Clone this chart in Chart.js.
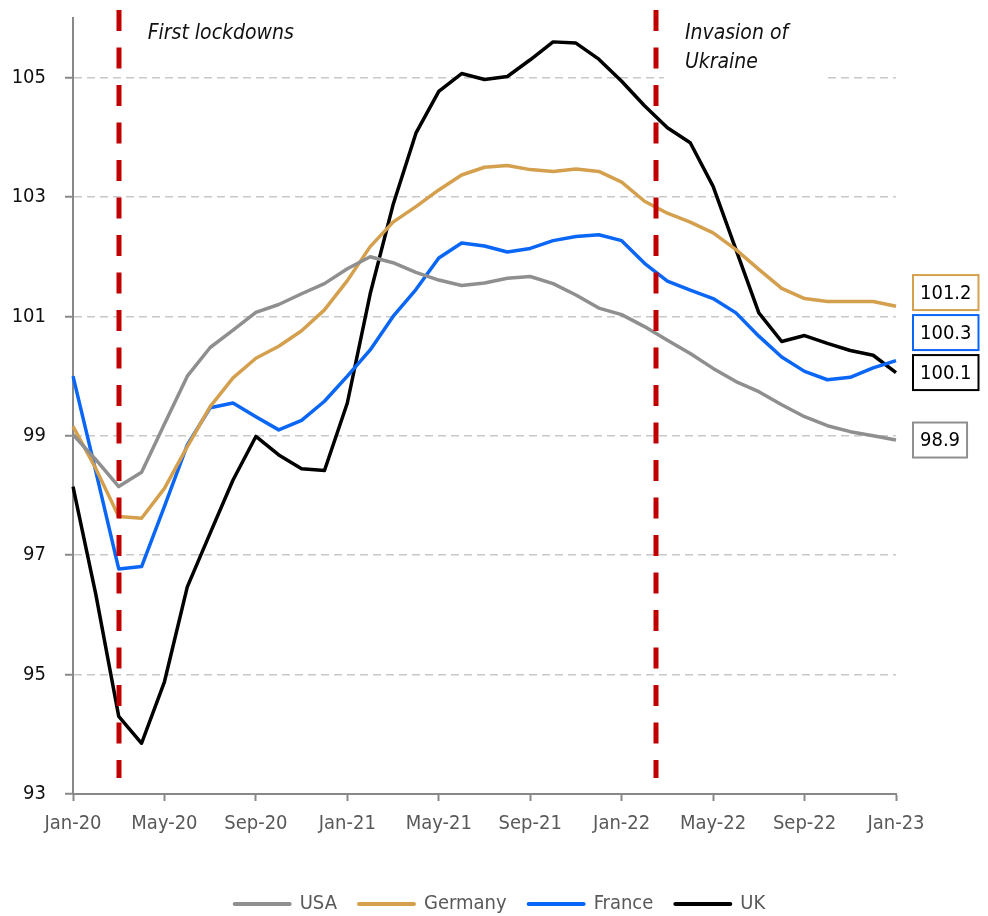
<!DOCTYPE html>
<html>
<head>
<meta charset="utf-8">
<script src="https://cdn.jsdelivr.net/npm/chart.js@4.4.1/dist/chart.umd.min.js"></script>
<style>
  html, body { margin: 0; padding: 0; background: #fff; }
  #wrap { width: 988px; height: 916px; position: relative; }
</style>
</head>
<body>
<div id="wrap"><canvas id="chart"></canvas></div>
<script>
// Données
const months = [
  "Jan-20", "Feb-20", "Mar-20", "Apr-20", "May-20", "Jun-20", "Jul-20", "Aug-20", "Sep-20", "Oct-20", "Nov-20", "Dec-20",
  "Jan-21", "Feb-21", "Mar-21", "Apr-21", "May-21", "Jun-21", "Jul-21", "Aug-21", "Sep-21", "Oct-21", "Nov-21", "Dec-21",
  "Jan-22", "Feb-22", "Mar-22", "Apr-22", "May-22", "Jun-22", "Jul-22", "Aug-22", "Sep-22", "Oct-22", "Nov-22", "Dec-22",
  "Jan-23"
];
const usa = [
  99.02, 98.6, 98.15, 98.39, 99.2, 100.0, 100.48, 100.77, 101.07, 101.2, 101.38, 101.55,
  101.8, 102.0, 101.9, 101.74, 101.61, 101.52, 101.56, 101.64, 101.67, 101.55, 101.36, 101.14,
  101.03, 100.83, 100.6, 100.38, 100.13, 99.91, 99.74, 99.52, 99.32, 99.17, 99.07, 99.0,
  98.93
];
const germany = [
  99.16, 98.45, 97.65, 97.62, 98.12, 98.82, 99.49, 99.97, 100.3, 100.5, 100.76, 101.11,
  101.6, 102.17, 102.58, 102.84, 103.12, 103.37, 103.5, 103.53, 103.46, 103.43, 103.47, 103.43,
  103.25, 102.93, 102.73, 102.58, 102.4, 102.12, 101.79, 101.47, 101.3, 101.25, 101.25, 101.25,
  101.17
];
const france = [
  100.0, 98.4, 96.77, 96.81, 97.82, 98.85, 99.47, 99.55, 99.32, 99.1, 99.26, 99.58,
  100.0, 100.44, 101.0, 101.45, 101.98, 102.23, 102.18, 102.08, 102.14, 102.27, 102.34, 102.37,
  102.27, 101.89, 101.59, 101.44, 101.3, 101.06, 100.67, 100.32, 100.08, 99.94, 99.98, 100.14,
  100.26
];
const uk = [
  98.15, 96.34, 94.3, 93.85, 94.88, 96.47, 97.37, 98.26, 98.99, 98.68, 98.45, 98.42,
  99.55, 101.38, 102.87, 104.07, 104.77, 105.07, 104.97, 105.02, 105.3, 105.6, 105.58, 105.31,
  104.94, 104.53, 104.16, 103.91, 103.18, 102.12, 101.06, 100.58, 100.68, 100.55, 100.43, 100.35,
  100.06
];
const yTicks = [93, 95, 97, 99, 101, 103, 105];
const eventPositions = [2, 25.5]; // Mar-20, fin Feb-22
const eventLabels = [["First lockdowns"], ["Invasion of", "Ukraine"]];

// Configuration
const FONT = '"Liberation Sans Narrow", "DejaVu Sans Condensed", "Open Sans", sans-serif';
const COLORS = { usa: "#8f8f8f", germany: "#d4a04e", france: "#0a66f5", uk: "#000000" };

Chart.defaults.font.family = FONT;
Chart.defaults.font.size = 20;

function makeDataset(label, values, color) {
  return {
    label: label,
    data: values,
    borderColor: color,
    backgroundColor: color,
    borderWidth: 3.5,
    borderJoinStyle: "round",
    pointRadius: 0,
    pointHoverRadius: 0,
    tension: 0,
  };
}

// Lignes verticales rouges + textes + étiquettes de fin
const annotations = {
  id: "annotations",
  beforeDatasetsDraw(chart) {
    const { ctx, scales } = chart;
    const x = scales.x;
    ctx.save();
    eventPositions.forEach((pos, i) => {
      const px = x.getPixelForValue(pos);
      const lines = eventLabels[i];
      const base = chart.chartArea.top + 21;
      // fond blanc (masque la grille sous le texte)
      ctx.fillStyle = "#fff";
      ctx.fillRect(px + 8, 12, 163, base + (lines.length - 1) * 29);
      ctx.fillStyle = "#111";
      ctx.font = "italic 21px " + FONT;
      ctx.textAlign = "left";
      ctx.textBaseline = "alphabetic";
      lines.forEach((t, j) => ctx.fillText(t, px + 29, base + j * 29));
    });
    ctx.restore();
  },
  afterDatasetsDraw(chart) {
    const { ctx, scales, chartArea } = chart;
    const x = scales.x;
    const y = scales.y;
    ctx.save();
    // lignes rouges en tirets
    ctx.strokeStyle = "#c00000";
    ctx.lineWidth = 5;
    ctx.setLineDash([21, 16.5]);
    eventPositions.forEach((pos) => {
      const px = Math.round(x.getPixelForValue(pos));
      ctx.beginPath();
      ctx.moveTo(px, chartArea.top - 8);
      ctx.lineTo(px, chartArea.bottom - 16);
      ctx.stroke();
    });
    ctx.setLineDash([]);

    // étiquettes des dernières valeurs
    ctx.font = "20px " + FONT;
    const items = chart.data.datasets.map((ds) => {
      const v = ds.data[ds.data.length - 1];
      return { text: v.toFixed(1), color: ds.borderColor, cy: y.getPixelForValue(v) };
    });
    items.sort((a, b) => b.cy - a.cy);
    const gap = 40;
    for (let i = 1; i < items.length; i++) {
      if (items[i - 1].cy - items[i].cy < gap) items[i].cy = items[i - 1].cy - gap;
    }
    const left = chartArea.right + 17;
    items.forEach((it) => {
      const w = ctx.measureText(it.text).width + 14;
      const h = 35;
      ctx.fillStyle = "#fff";
      ctx.fillRect(left, it.cy - h / 2, w, h);
      ctx.strokeStyle = it.color;
      ctx.lineWidth = 2;
      ctx.strokeRect(left, it.cy - h / 2, w, h);
      ctx.fillStyle = "#000";
      ctx.textAlign = "center";
      ctx.textBaseline = "middle";
      ctx.fillText(it.text, left + w / 2, it.cy + 1);
    });
    ctx.restore();
  },
};

function init() {
  const ctx = document.getElementById("chart").getContext("2d");

  new Chart(ctx, {
    type: "line",
    data: {
      labels: months,
      datasets: [
        makeDataset("USA", usa, COLORS.usa),
        makeDataset("Germany", germany, COLORS.germany),
        makeDataset("France", france, COLORS.france),
        makeDataset("UK", uk, COLORS.uk),
      ],
    },
    options: {
      responsive: true,
      maintainAspectRatio: false,
      animation: false,
      layout: { padding: { top: 18, left: 12, right: 0, bottom: -8 } },
      plugins: {
        tooltip: { enabled: false },
        legend: {
          position: "bottom",
          labels: {
            usePointStyle: true,
            pointStyle: "line",
            pointStyleWidth: 55,
            color: "#595959",
            font: { size: 20 },
            padding: 22,
            generateLabels(chart) {
              const items = Chart.defaults.plugins.legend.labels.generateLabels(chart);
              items.forEach((it) => {
                it.lineWidth = 4;
                it.lineCap = "round";
                it.pointStyle = "line";
              });
              return items;
            },
          },
        },
      },
      scales: {
        x: {
          type: "category",
          offset: false,
          border: { color: "#888", width: 2 },
          grid: {
            drawOnChartArea: false,
            drawTicks: true,
            tickLength: 7,
            tickWidth: 2,
            tickColor: (c) => (c.index % 4 === 0 ? "#888" : "rgba(0,0,0,0)"),
          },
          ticks: {
            autoSkip: false,
            maxRotation: 0,
            color: "#595959",
            padding: 11,
            callback: (val, i) => (i % 4 === 0 ? months[i] : ""),
          },
          afterFit: (s) => { s.height = 78; },
        },
        y: {
          min: 93,
          max: 106,
          border: { color: "#888", width: 2, dash: [8, 5] },
          grid: {
            color: (c) => (c.tick && c.tick.value === 93 ? "rgba(0,0,0,0)" : "#c8c8c8"),
            lineWidth: 1.5,
            tickLength: 8,
            tickWidth: 2,
            tickColor: "#888",
            tickBorderDash: [],
          },
          ticks: { color: "#111", padding: 19, callback: (v) => String(v) },
          afterBuildTicks: (s) => { s.ticks = yTicks.map((v) => ({ value: v })); },
          afterFit: (s) => {
            s.width = 61;
            s.paddingTop = 0;
            s.paddingBottom = 0;
          },
        },
        yRight: {
          position: "right",
          display: true,
          border: { display: false },
          grid: { display: false, drawTicks: false },
          ticks: { display: false },
          afterFit: (s) => { s.width = 92; },
        },
      },
    },
    plugins: [annotations],
  });
}

document.addEventListener("DOMContentLoaded", init);
</script>
</body>
</html>
